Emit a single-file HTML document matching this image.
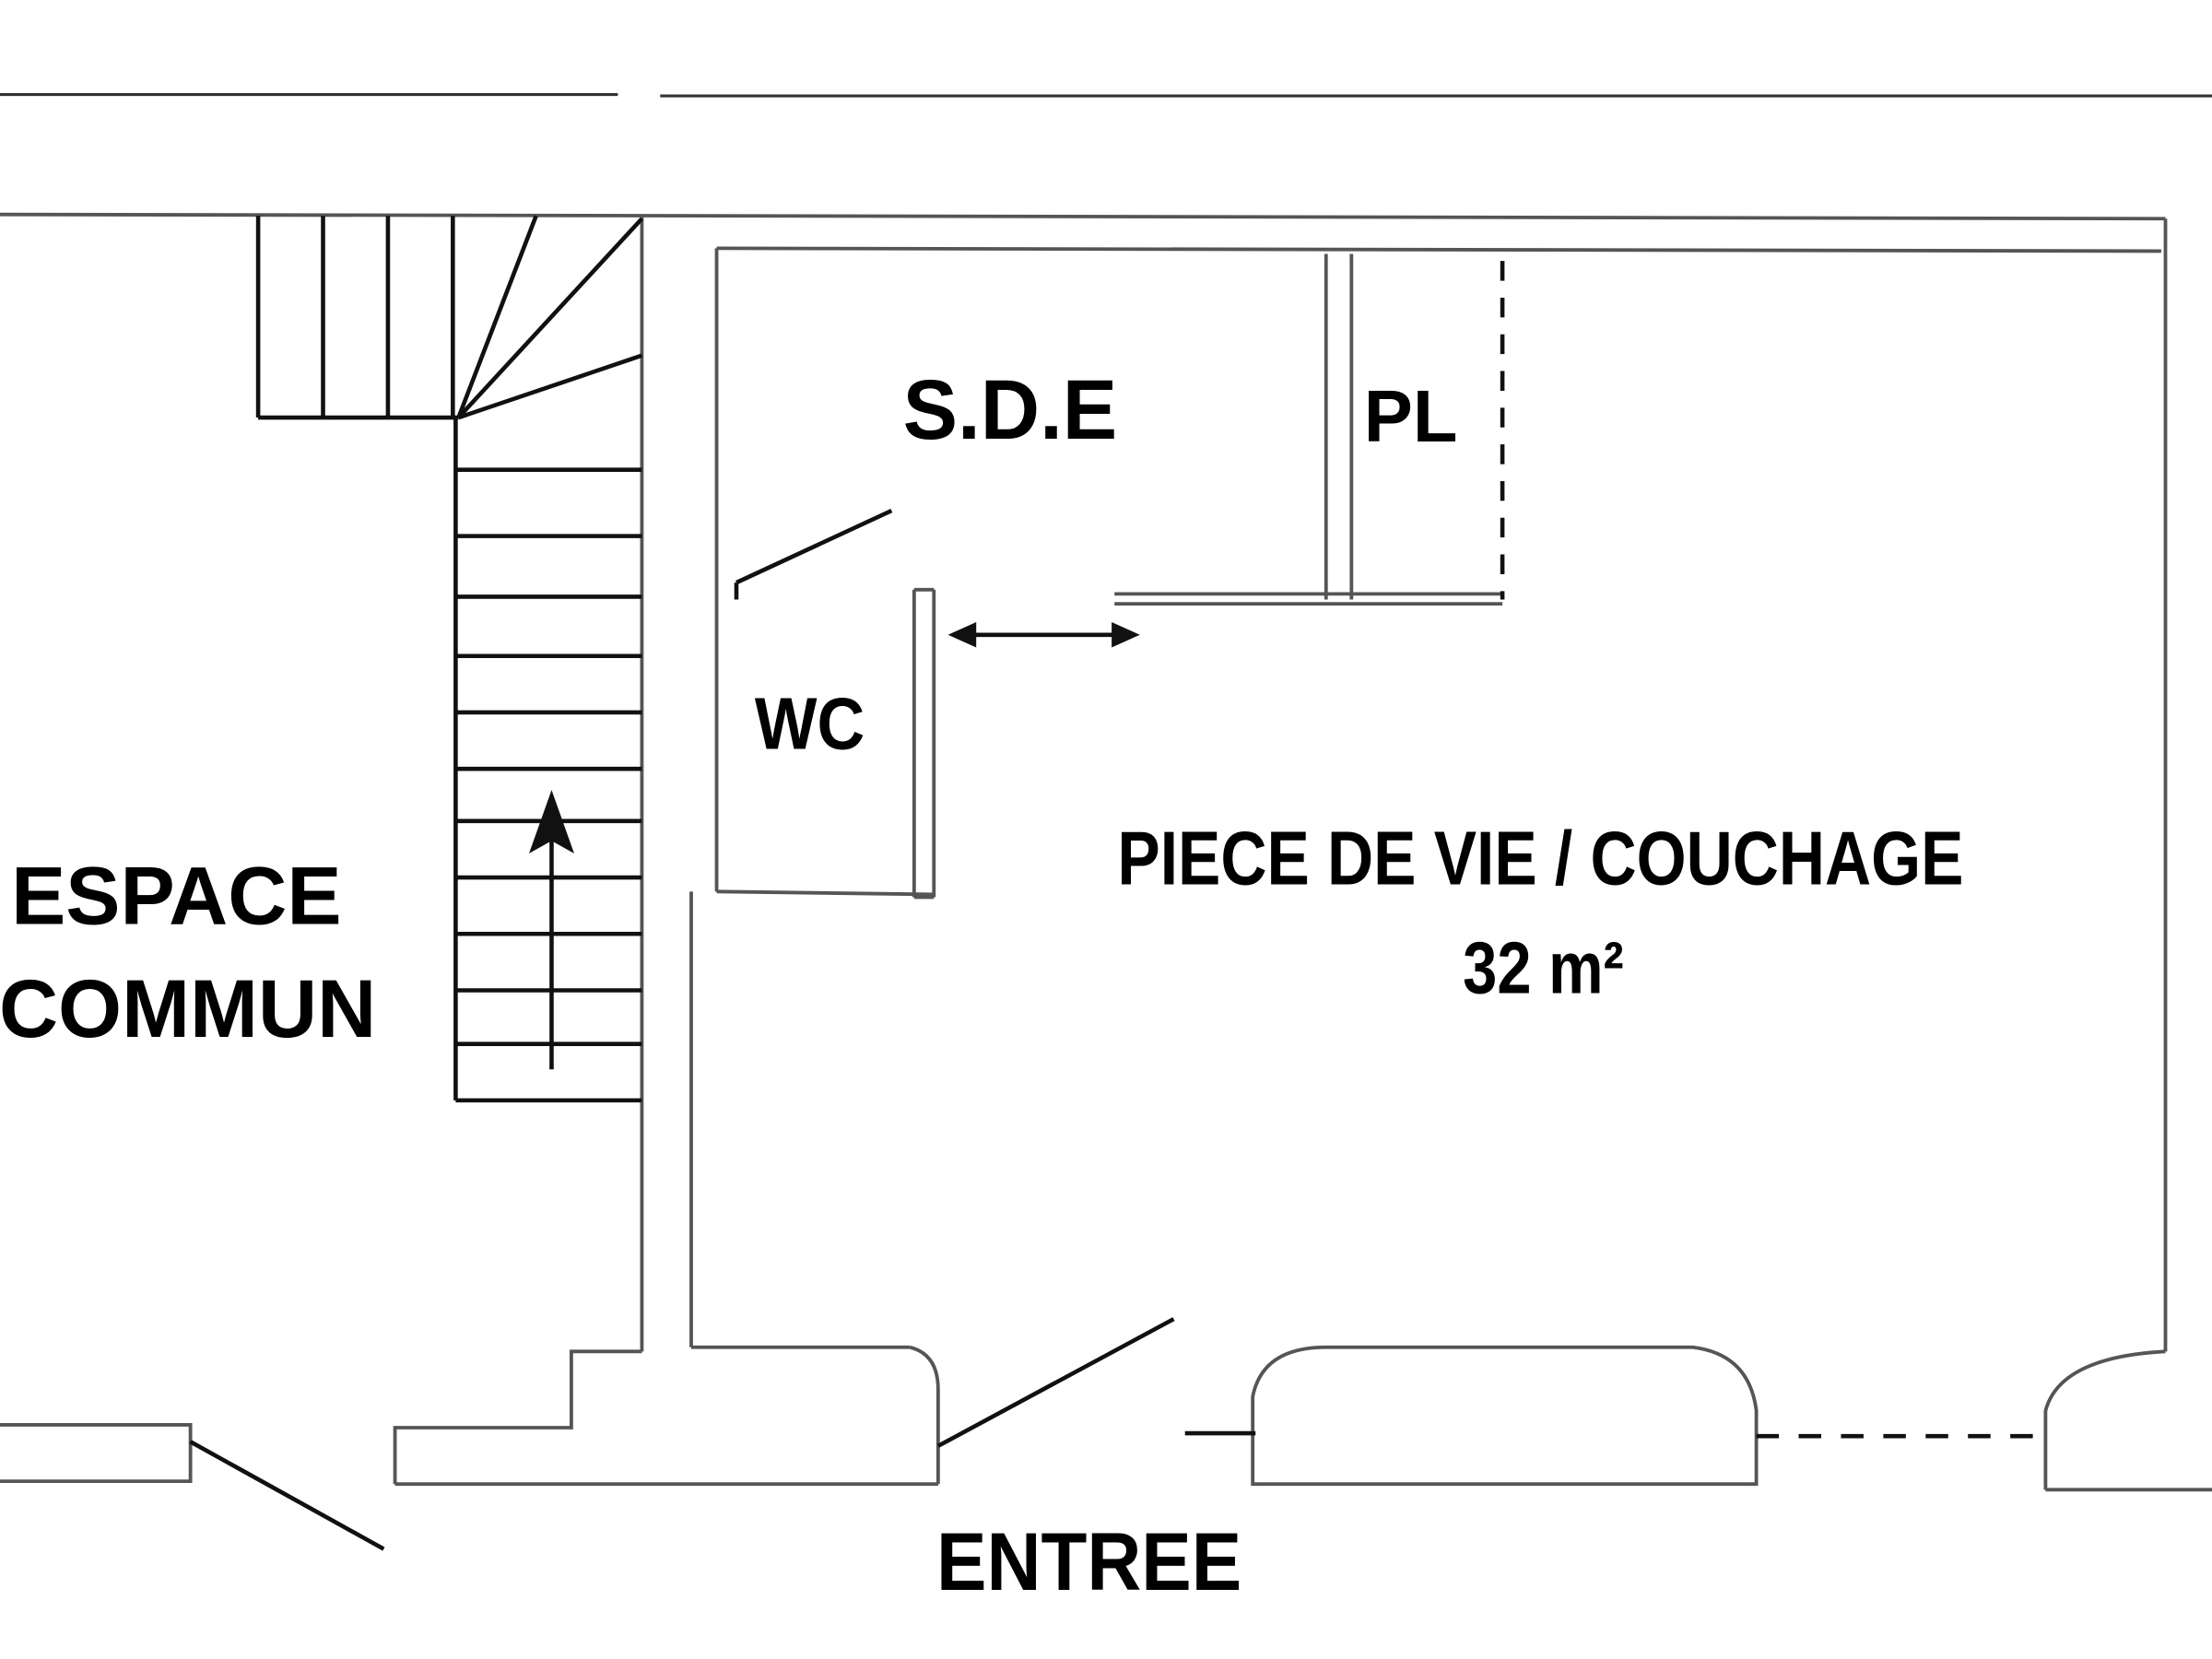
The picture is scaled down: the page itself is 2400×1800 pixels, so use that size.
<!DOCTYPE html>
<html><head><meta charset="utf-8"><style>
html,body{margin:0;padding:0;background:#fff;}
svg{display:block;}
text{font-family:"Liberation Sans",sans-serif;font-weight:bold;fill:#000;}
</style></head><body>
<svg width="2400" height="1800" viewBox="0 0 1568 1176" xmlns="http://www.w3.org/2000/svg">
<g fill="none" stroke="#333" stroke-width="2">
<line x1="0" y1="67" x2="438" y2="67"/>
<line x1="468" y1="68" x2="1568" y2="68"/>
</g>
<g fill="none" stroke="#555" stroke-width="2.5">
<line x1="0" y1="152" x2="1535" y2="155"/>
<line x1="1535" y1="155" x2="1535" y2="958"/>
<line x1="508" y1="176" x2="1532" y2="178"/>
<line x1="508" y1="176" x2="508" y2="425"/>
<line x1="455" y1="153" x2="455" y2="958"/>
<line x1="490" y1="632" x2="490" y2="955"/>
<line x1="508" y1="425" x2="508" y2="632"/>
<line x1="508" y1="632" x2="662" y2="634"/>
<line x1="648" y1="418" x2="648" y2="636"/>
<line x1="662" y1="418" x2="662" y2="636"/>
<line x1="648" y1="418" x2="662" y2="418"/>
<line x1="648" y1="636" x2="662" y2="636"/>
<line x1="790" y1="421" x2="1065" y2="421"/>
<line x1="790" y1="428" x2="1065" y2="428"/>
<line x1="940" y1="180" x2="940" y2="425"/>
<line x1="958" y1="180" x2="958" y2="425"/>
<line x1="490" y1="955" x2="645" y2="955"/>
<path d="M645,955 Q665,960 665,985 L665,1052"/>
<line x1="280" y1="1052" x2="665" y2="1052"/>
<polyline points="280,1052 280,1012 405,1012 405,958 455,958"/>
<polyline points="0,1010 135,1010 135,1050 0,1050"/>
<path d="M888,1052 L888,990 Q895,955 940,955 L1200,955 Q1240,960 1245,1000 L1245,1052 Z"/>
<path d="M1450,1056 L1450,1000 Q1460,962 1535,958"/>
<line x1="1450" y1="1056" x2="1568" y2="1056"/>
</g>
<g fill="none" stroke="#111" stroke-width="3">
<line x1="183" y1="153" x2="183" y2="296"/>
<line x1="229" y1="153" x2="229" y2="296"/>
<line x1="275" y1="153" x2="275" y2="296"/>
<line x1="321" y1="153" x2="321" y2="296"/>
<line x1="183" y1="296" x2="325" y2="296"/>
<line x1="325" y1="296" x2="455" y2="155"/>
<line x1="325" y1="296" x2="380" y2="153"/>
<line x1="325" y1="296" x2="455" y2="252"/>
<line x1="323" y1="296" x2="323" y2="780"/>
<line x1="323" y1="333" x2="455" y2="333"/>
<line x1="323" y1="380" x2="455" y2="380"/>
<line x1="323" y1="423" x2="455" y2="423"/>
<line x1="323" y1="465" x2="455" y2="465"/>
<line x1="323" y1="505" x2="455" y2="505"/>
<line x1="323" y1="545" x2="455" y2="545"/>
<line x1="323" y1="582" x2="455" y2="582"/>
<line x1="323" y1="622" x2="455" y2="622"/>
<line x1="323" y1="662" x2="455" y2="662"/>
<line x1="323" y1="702" x2="455" y2="702"/>
<line x1="323" y1="740" x2="455" y2="740"/>
<line x1="323" y1="780" x2="455" y2="780"/>
<line x1="391" y1="758" x2="391" y2="580"/>
<line x1="522" y1="413" x2="632" y2="362"/>
<line x1="522" y1="413" x2="522" y2="425"/>
<line x1="685" y1="450" x2="795" y2="450"/>
<line x1="665" y1="1025" x2="832" y2="935"/>
<line x1="135" y1="1022" x2="272" y2="1098"/>
<line x1="840" y1="1016" x2="890" y2="1016"/>
<line x1="1065" y1="185" x2="1065" y2="425" stroke-dasharray="14,12"/>
<line x1="1245" y1="1018" x2="1450" y2="1018" stroke-dasharray="16,14"/>
</g>
<polygon points="391,560 375,605 391,596 407,605" fill="#111"/>
<polygon points="672,450 692,441 692,459" fill="#111"/>
<polygon points="808,450 788,441 788,459" fill="#111"/>
<text x="716" y="311" font-size="60" text-anchor="middle" transform="translate(716,0) scale(0.97,1) translate(-716,0)">S.D.E</text>
<text x="1000" y="313" font-size="52" text-anchor="middle">PL</text>
<text x="574" y="531" font-size="52" text-anchor="middle" transform="translate(574,0) scale(0.9,1) translate(-574,0)">WC</text>
<text x="1092" y="627" font-size="54" text-anchor="middle" transform="translate(1092,0) scale(0.84,1) translate(-1092,0)">PIECE DE VIE / COUCHAGE</text>
<text x="1094" y="704" font-size="52" text-anchor="middle" transform="translate(1094,0) scale(0.84,1) translate(-1094,0)">32 m²</text>
<text x="125" y="655" font-size="58" text-anchor="middle">ESPACE</text>
<text x="133" y="735" font-size="58" text-anchor="middle">COMMUN</text>
<text x="772" y="1127" font-size="58" text-anchor="middle" transform="translate(772,0) scale(0.92,1) translate(-772,0)">ENTREE</text>
</svg>
</body></html>
